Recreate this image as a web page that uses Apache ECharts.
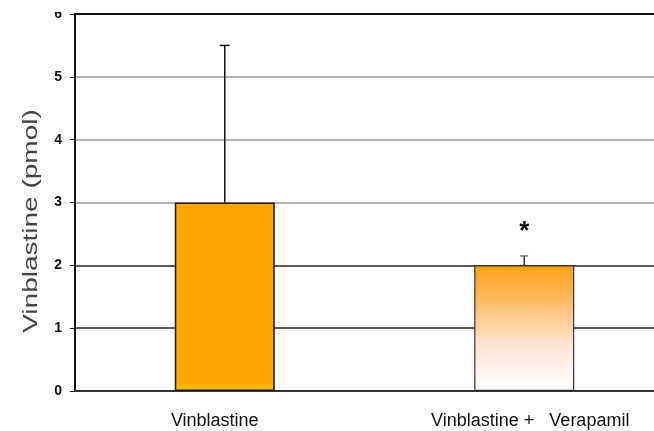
<!DOCTYPE html>
<html>
<head>
<meta charset="utf-8">
<script src="https://cdn.jsdelivr.net/npm/echarts@6/dist/echarts.min.js"></script>
<style>
html,body{margin:0;padding:0;background:#fff;overflow:hidden;width:654px;height:431px;}
#chart{width:680px;height:431px;}
</style>
</head>
<body>
<div id="chart"></div>
<script>
const categories = ['Vinblastine', 'Vinblastine +   Verapamil'];
const meanValues = [3.0, 2.0];
const errorUpper = [5.5, 2.15];
const significance = ['', '*'];
const tickLabels = ['0', '1', '2', '3', '4', '5', '6'];
const yAxisTitle = 'Vinblastine (pmol)';

const chart = echarts.init(document.getElementById('chart'), null, {renderer: 'canvas'});

const barData = meanValues.map((v, i) => ({
  value: v,
  itemStyle: i === 0 ? {
    color: new echarts.graphic.LinearGradient(0, 0, 0, 1, [
      {offset: 0, color: '#FFA500'},
      {offset: 0.95, color: '#FFA500'},
      {offset: 1, color: '#FFBE10'}
    ]),
    borderColor: '#1a1a1a', borderWidth: 1.5
  } : {
    color: new echarts.graphic.LinearGradient(0, 0, 0, 1, [
      {offset: 0, color: '#FFA012'},
      {offset: 0.3, color: '#FFBD6A'},
      {offset: 0.65, color: '#FFE6D6'},
      {offset: 1, color: '#FFFFFF'}
    ]),
    borderColor: '#333', borderWidth: 1.2
  }
}));

const errData = meanValues.map((v, i) => [i, v, errorUpper[i], significance[i]]);
const labelPads = [[0, 20, 0, 0], [0, 0, 0, 12]];

chart.setOption({
  animation: false,
  grid: {left: 75, right: 6, top: 14, bottom: 40, show: true, borderColor: '#111', borderWidth: 2, backgroundColor: 'transparent'},
  xAxis: {
    type: 'category',
    data: categories.map((c, i) => ({value: c, textStyle: {padding: labelPads[i]}})),
    axisLine: {show: true, lineStyle: {color: '#333', width: 2}},
    axisTick: {show: false},
    axisLabel: {color: '#111', fontFamily: 'Liberation Sans', fontSize: 18, margin: 21}
  },
  yAxis: {
    type: 'value',
    min: 0, max: 6, interval: 1,
    axisLine: {show: true, lineStyle: {color: '#111', width: 2}},
    axisTick: {show: true, length: 5, lineStyle: {color: '#111', width: 1}},
    axisLabel: {
      color: '#111', fontFamily: 'Liberation Sans', fontWeight: 'bold', fontSize: 14, margin: 13,
      formatter: (v) => tickLabels[Math.round(v)]
    },
    splitLine: {show: true, lineStyle: {color: ['#111', '#222', '#222', '#999', '#999', '#999', '#111'], width: 1.5}}
  },
  series: [
    {
      type: 'bar',
      data: barData,
      barWidth: 100,
      z: 2
    },
    {
      type: 'custom',
      data: errData,
      z: 3,
      renderItem: function (params, api) {
        const i = api.value(0);
        const base = api.coord([i, api.value(1)]);
        const top = api.coord([i, api.value(2)]);
        const hw = i === 0 ? 5 : 4;
        const color = i === 0 ? '#111' : '#333';
        const children = [
          {type: 'line', shape: {x1: top[0], y1: base[1], x2: top[0], y2: top[1]}, style: {stroke: color, lineWidth: 1.5}},
          {type: 'line', shape: {x1: top[0] - hw, y1: top[1], x2: top[0] + hw, y2: top[1]}, style: {stroke: i === 0 ? '#111' : '#777', lineWidth: 1.5}}
        ];
        const mark = significance[i];
        if (mark) {
          children.push({type: 'text', style: {text: mark, x: top[0], y: top[1] - 11, align: 'center', verticalAlign: 'bottom', fill: '#111', font: 'bold 26px Liberation Sans'}});
        }
        return {type: 'group', children: children};
      }
    }
  ],
  graphic: [
    {type: 'rect', left: 30, top: 0, shape: {width: 40, height: 12}, style: {fill: '#fff'}, z: 100, silent: true},
    {type: 'text', x: 31, y: 221, rotation: Math.PI / 2, scaleX: 1.4,
     style: {text: yAxisTitle, align: 'center', verticalAlign: 'middle', fill: '#444', font: '20px Liberation Sans'}, silent: true}
  ]
});
</script>
</body>
</html>
